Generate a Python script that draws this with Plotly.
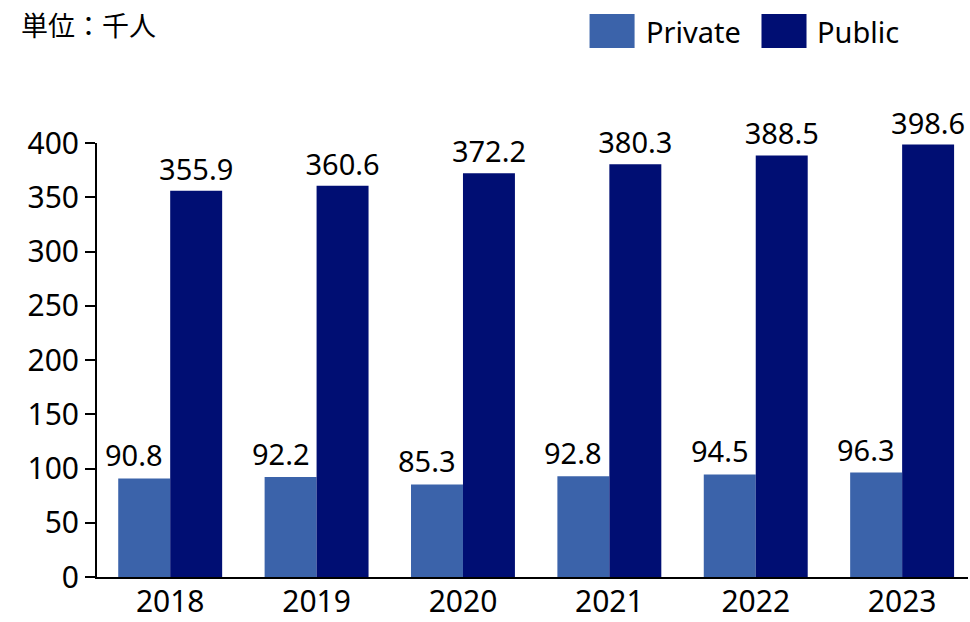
import plotly.graph_objects as go

years = ["2018", "2019", "2020", "2021", "2022", "2023"]
private = [90.8, 92.2, 85.3, 92.8, 94.5, 96.3]
public = [355.9, 360.6, 372.2, 380.3, 388.5, 398.6]

PRIVATE_COLOR = "#3B63AA"
PUBLIC_COLOR = "#000E73"
FONT = "Segoe UI, Noto Sans, Open Sans, sans-serif"
LABEL_SIZE = 29

fig = go.Figure()
fig.add_trace(go.Bar(
    x=years, y=private, name="Private", marker_color=PRIVATE_COLOR,
    marker_line_width=0, showlegend=False,
))
fig.add_trace(go.Bar(
    x=years, y=public, name="Public", marker_color=PUBLIC_COLOR, marker_line_width=0,
    text=[f"{v:.1f}" for v in public], textposition="outside",
    textfont=dict(size=LABEL_SIZE, color="black", family=FONT),
    constraintext="none", cliponaxis=False, showlegend=False,
))

shapes = []
annotations = []

# Private value labels sit a little left of their bars so they clear the Public bars
# (x given as category index on the category axis)
for i, v in enumerate(private):
    annotations.append(dict(x=i, y=v, xref="x", yref="y", text=f"{v:.1f}", showarrow=False,
                            xanchor="center", yanchor="bottom", xshift=-36, yshift=2,
                            font=dict(size=LABEL_SIZE, color="black", family=FONT)))

# legend drawn as swatches + labels along the top
legend_items = [("Private", PRIVATE_COLOR, 0.5655), ("Public", PUBLIC_COLOR, 0.7629)]
for name, color, x0 in legend_items:
    shapes.append(dict(type="rect", xref="paper", yref="paper",
                       x0=x0, x1=x0 + 0.0517, y0=1.219, y1=1.297,
                       fillcolor=color, line_width=0))
    annotations.append(dict(text=name, xref="paper", yref="paper",
                            x=x0 + 0.0620, y=1.256, xanchor="left", yanchor="middle",
                            showarrow=False, font=dict(size=29, color="black", family=FONT)))

annotations.append(dict(text="単位：千人", xref="paper", yref="paper",
                        x=-0.089, y=1.272, xanchor="left", yanchor="middle",
                        showarrow=False,
                        font=dict(size=27, color="black",
                                  family="Noto Sans CJK JP, Noto Sans CJK SC, sans-serif")))

fig.update_layout(
    width=970, height=622,
    margin=dict(l=97, r=2, t=143, b=45, autoexpand=False),
    plot_bgcolor="white", paper_bgcolor="white",
    barmode="group", bargap=0.29, bargroupgap=0,
    font=dict(family=FONT, size=30, color="black"),
    shapes=shapes, annotations=annotations,
    xaxis=dict(type="category", range=[-0.5, 5.45], showline=True, linecolor="black",
               linewidth=2, ticks="", tickfont=dict(size=30), showgrid=False,
               ticklabelstandoff=-3, automargin=False),
    yaxis=dict(range=[0, 400], tickvals=list(range(0, 401, 50)),
               showline=True, linecolor="black", linewidth=2,
               ticks="outside", ticklen=10, tickwidth=2, tickcolor="black",
               tickfont=dict(size=30), showgrid=False, zeroline=False, automargin=False),
)

fig.write_html("out.html")
